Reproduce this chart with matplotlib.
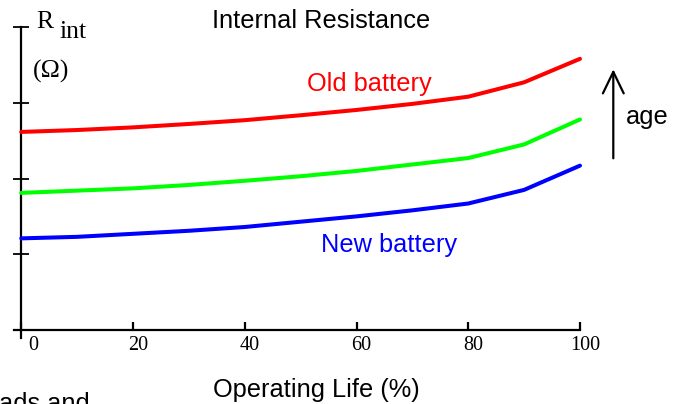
import matplotlib
matplotlib.use('Agg')
import matplotlib.pyplot as plt
import matplotlib.transforms as mtransforms

# operating life (%) and internal resistance (arbitrary units)
life = [0, 10, 20, 30, 40, 50, 60, 70, 80, 90, 100]
r_old = [2.615, 2.64, 2.675, 2.72, 2.77, 2.835, 2.905, 2.985, 3.08, 3.27, 3.58]
r_mid = [1.81, 1.84, 1.87, 1.915, 1.97, 2.03, 2.10, 2.185, 2.27, 2.45, 2.78]
r_new = [1.21, 1.23, 1.27, 1.31, 1.36, 1.43, 1.50, 1.58, 1.67, 1.85, 2.17]
x_ticks = [0, 20, 40, 60, 80, 100]
y_ticks = [0, 1, 2, 3, 4]

W, H = 683, 404
sans = 'Liberation Sans'
serif = 'Liberation Serif'

fig = plt.figure(figsize=(W / 100, H / 100), dpi=100)
ax = fig.add_axes([14 / W, 1 - 337.6 / H, 566 / W, 310.6 / H])

for vals, col in [(r_old, '#ff0000'), (r_mid, '#00ff00'), (r_new, '#0000ff')]:
    ax.plot(life, vals, color=col, lw=2.9, solid_capstyle='round',
            solid_joinstyle='round', clip_on=False, zorder=3)

ax.set_xlim(-1.3, 100)
ax.set_ylim(-0.1, 4)
ax.spines['top'].set_visible(False)
ax.spines['right'].set_visible(False)
ax.spines['left'].set_position(('data', 0))
ax.spines['bottom'].set_position(('data', 0))
for s in ['left', 'bottom']:
    ax.spines[s].set_linewidth(1.6)

ax.set_xticks(x_ticks)
ax.set_xticklabels([str(t) for t in x_ticks], fontfamily=serif, fontsize=14.5)
ax.tick_params(axis='x', direction='in', length=6, width=1.6, pad=4.5)
ax.set_yticks(y_ticks)
ax.set_yticklabels([])
ax.tick_params(axis='y', direction='inout', length=11, width=1.3)

# small horizontal nudge of the tick labels like the original
for i, lab in enumerate(ax.get_xticklabels()):
    dx = 12 if i == 0 else 5
    lab.set_transform(lab.get_transform() +
                      mtransforms.ScaledTranslation(dx / 100, 0, fig.dpi_scale_trans))


def ftext(x, y, s, **kw):
    fig.text(x / W, 1 - y / H, s, va='baseline', **kw)


ftext(321, 27.5, 'Internal Resistance', ha='center', fontsize=18.3, fontfamily=sans)
ftext(369, 91, 'Old battery', ha='center', fontsize=18.3, fontfamily=sans, color='#ff0000')
ftext(389, 251.7, 'New battery', ha='center', fontsize=18.3, fontfamily=sans, color='#0000ff')
ftext(316, 396.7, 'Operating Life (%)', ha='center', fontsize=18.3, fontfamily=sans)
ftext(626, 124, 'age', ha='left', fontsize=18.3, fontfamily=sans)
ftext(-1, 411.5, 'ads and', ha='left', fontsize=18.3, fontfamily=sans)

ftext(36, 28, 'R', ha='left', fontsize=18.5, fontfamily=serif)
ftext(59, 37.5, 'int', ha='left', fontsize=18.5, fontfamily=serif)
ftext(33, 78, '(\u03a9)', ha='left', fontsize=18.5, fontfamily=serif)

fig.add_artist(plt.Annotation('', xy=(613.3 / W, 1 - 69.3 / H), xytext=(613.3 / W, 1 - 158.3 / H),
                              xycoords='figure fraction', textcoords='figure fraction',
                              arrowprops=dict(arrowstyle='->,head_length=0.62,head_width=0.3',
                                              mutation_scale=25, lw=1.6, color='black',
                                              shrinkA=0, shrinkB=0)))

fig.savefig('out.png', dpi=100)
